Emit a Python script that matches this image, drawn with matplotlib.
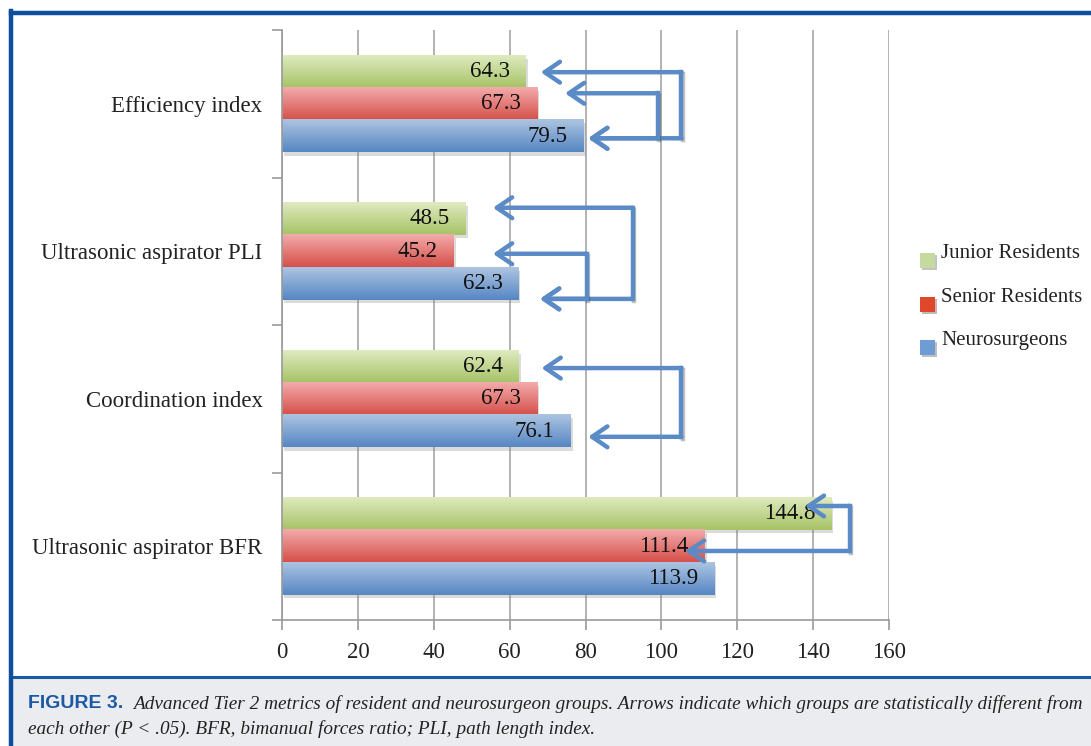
import matplotlib.pyplot as plt
import matplotlib.patheffects as pe
from matplotlib.patches import Rectangle
import numpy as np
from matplotlib.colors import LinearSegmentedColormap

# Tier 2 metrics, listed bottom to top as drawn
metrics = ['Ultrasonic aspirator BFR', 'Coordination index',
           'Ultrasonic aspirator PLI', 'Efficiency index']
groups = ['Junior Residents', 'Senior Residents', 'Neurosurgeons']
junior = [144.8, 62.4, 48.5, 64.3]
senior = [111.4, 67.3, 45.2, 67.3]
neuro = [113.9, 76.1, 62.3, 79.5]
x_ticks = [0, 20, 40, 60, 80, 100, 120, 140, 160]

# significant pairs: (upper y, lower y, bracket x, upper tip x, lower tip x)
brackets = [
    (3.214, 2.766, 105.3, 68.2, 80.7),
    (3.071, 2.766, 99.0, 74.6, 80.7),
    (2.295, 1.677, 92.5, 55.6, 68.0),
    (1.983, 1.677, 80.3, 55.6, 68.0),
    (1.208, 0.742, 105.3, 68.4, 80.7),
    (0.273, -0.032, 149.7, 137.8, 106.2),
]

caption_1 = ('Advanced Tier 2 metrics of resident and neurosurgeon groups. Arrows indicate '
             'which groups are statistically different from')
caption_2 = 'each other (P < .05). BFR, bimanual forces ratio; PLI, path length index.'

# gradient (top, bottom) and legend swatch colours per group
grad = [('#dfeabf', '#a6c366'), ('#f2abab', '#d6504a'), ('#adc4e1', '#5687c4')]
swatch = ['#c6d99e', '#e0482c', '#6f9dd3']
arrow_col = '#5b8bc6'

serif = 'Liberation Serif'
W, H = 1091, 746
fig = plt.figure(figsize=(W / 100, H / 100), dpi=100)
fig.patch.set_facecolor('white')

# frame and caption panel
fig.patches.append(Rectangle((12 / W, 0), 1, 68 / H, transform=fig.transFigure,
                             facecolor='#ebecef', edgecolor='none', zorder=0))
fig.lines.append(plt.Line2D([12 / W, 1], [1 - 677 / H] * 2, transform=fig.transFigure,
                            color='#1a5aa5', lw=2.2))
fig.lines.append(plt.Line2D([10.5 / W, 1], [1 - 12.5 / H] * 2, transform=fig.transFigure,
                            color='#0d4f9c', lw=3.2))
fig.lines.append(plt.Line2D([10.5 / W] * 2, [0, 1 - 11 / H], transform=fig.transFigure,
                            color='#0d4f9c', lw=3.2))

ax = fig.add_axes([282 / W, 1 - 620 / H, 607 / W, 590 / H])
y = np.arange(len(metrics))
h = 0.22
offsets = [h, 0.0, -h]

for series, off, (top, bot) in zip([junior, senior, neuro], offsets, grad):
    cmap = LinearSegmentedColormap.from_list('g', [bot, top])
    bars = ax.barh(y + off, series, height=h, color=bot, zorder=2,
                   path_effects=[pe.SimplePatchShadow(offset=(1.5, -2.5), shadow_rgbFace='#888888',
                                                      alpha=0.3), pe.Normal()])
    for b, v in zip(bars, series):
        y0 = b.get_y()
        ax.imshow(np.linspace(0, 1, 64).reshape(-1, 1), cmap=cmap, aspect='auto',
                  origin='lower', extent=(0, v, y0, y0 + h), zorder=2.5, interpolation='bilinear')
        ax.annotate(f'{v:.1f}', xy=(v, y0 + h / 2), xytext=(-11.5, 0),
                    textcoords='offset points', ha='right', va='center',
                    fontsize=16.5, family=serif, color='#111111', zorder=4)

# significance brackets with open arrowheads
shadow = [pe.SimpleLineShadow(offset=(1, -1.5), alpha=0.25), pe.Normal()]
for y_top, y_bot, xb, tip_top, tip_bot in brackets:
    ax.plot([xb, xb], [y_top, y_bot], color=arrow_col, lw=3.2, solid_capstyle='projecting',
            zorder=5, path_effects=shadow)
    for yy, tip in [(y_top, tip_top), (y_bot, tip_bot)]:
        ax.annotate('', xy=(tip, yy), xytext=(xb, yy),
                    arrowprops=dict(arrowstyle='->,head_length=1.1,head_width=0.75',
                                    color=arrow_col, lw=3.2, shrinkA=0, shrinkB=0),
                    zorder=5)

ax.set_xlim(0, 160)
ax.set_ylim(-0.5, len(metrics) - 0.5)
ax.set_xticks(x_ticks)
ax.set_xticklabels([str(t) for t in x_ticks], fontsize=16.5, family=serif, color='#222222')
ax.set_yticks(np.arange(len(metrics) + 1) - 0.5)
ax.set_yticklabels([])
ax.set_yticks(y, minor=True)
ax.set_yticklabels(metrics, minor=True, fontsize=16.5, family=serif, color='#222222')
ax.tick_params(axis='y', which='minor', length=0, pad=14)
ax.tick_params(axis='y', which='major', length=7, width=1.2, color='#9a9a9a')
ax.tick_params(axis='x', length=7, width=1.2, color='#9a9a9a', pad=9)
ax.grid(axis='x', color='#a6a6a6', lw=1.2, zorder=0)
ax.set_axisbelow(True)
for side in ['top', 'right']:
    ax.spines[side].set_visible(False)
for side in ['left', 'bottom']:
    ax.spines[side].set_color('#9a9a9a')
    ax.spines[side].set_linewidth(1.2)

# legend squares and labels
for i, (g, c) in enumerate(zip(groups, swatch)):
    top_px = 253 + i * 43.5
    fig.patches.append(Rectangle((920 / W, 1 - (top_px + 15) / H), 15 / W, 15 / H,
                                 transform=fig.transFigure, facecolor=c, edgecolor='none',
                                 path_effects=[pe.SimplePatchShadow(offset=(1.5, -1.5),
                                                                    alpha=0.3), pe.Normal()]))
    fig.text(941 / W, 1 - (top_px + 1) / H, g, fontsize=15, family=serif,
             color='#222222', ha='left', va='center')

# caption
fig.text(28 / W, 1 - 704 / H, 'FIGURE 3.', fontsize=14, family='Liberation Sans',
         weight='bold', color='#1b5aa3', va='center')
fig.text(133 / W, 1 - 704 / H, caption_1, fontsize=13.9, family=serif, style='italic',
         color='#222222', va='center')
fig.text(28 / W, 1 - 729 / H, caption_2, fontsize=13.9, family=serif, style='italic',
         color='#222222', va='center')

fig.savefig('out.png', dpi=100)
